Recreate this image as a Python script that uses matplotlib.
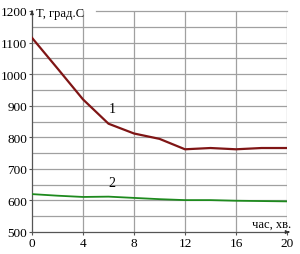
import matplotlib
matplotlib.use("Agg")
import matplotlib.pyplot as plt

hours1 = [0, 2, 4, 6, 8, 10, 12, 14, 16, 18, 20]
temp1 = [1115, 1018, 920, 843, 812, 795, 762, 766, 762, 766, 766]
hours2 = [0, 2, 4, 6, 8, 10, 12, 14, 16, 18, 20]
temp2 = [620, 615, 611, 612, 608, 604, 601, 601, 599, 598, 597]
xticks = [0, 4, 8, 12, 16, 20]
yticks = [500, 600, 700, 800, 900, 1000, 1100, 1200]

plt.rcParams['font.family'] = ['Liberation Serif', 'DejaVu Serif']

fig = plt.figure(figsize=(3.0, 2.55), dpi=100)
ax = fig.add_axes([32/300, 22/255, 255/300, 221/255])
ax.set_xlim(0, 20)
ax.set_ylim(500, 1200)

for x in xticks[1:]:
    ax.axvline(x, color='#a0a0a0', lw=0.9, zorder=1)
for y in range(550, 1200, 50):
    ax.axhline(y, color='#a0a0a0', lw=0.9, zorder=1)
ax.plot([5.0, 20], [1200, 1200], color='#a0a0a0', lw=0.9, zorder=1, clip_on=False)

ax.plot(hours1, temp1, color='#7f1515', lw=1.6, zorder=3)
ax.plot(hours2, temp2, color='#1e8a1e', lw=1.3, zorder=3)

ax.text(6.3, 890, '1', fontsize=10, ha='center', va='center')
ax.text(6.3, 656, '2', fontsize=10, ha='center', va='center')

for s in ['top', 'right']:
    ax.spines[s].set_visible(False)
ax.spines['left'].set_color('#555555')
ax.spines['bottom'].set_color('#555555')
ax.spines['left'].set_linewidth(0.9)
ax.spines['bottom'].set_linewidth(0.9)

ax.set_xticks(xticks)
ax.set_yticks(yticks)
ax.tick_params(axis='both', length=2.5, width=0.8, color='#555555', labelsize=9.5, pad=1)

ax.annotate('', xy=(0, 1210), xytext=(0, 1190), annotation_clip=False,
            arrowprops=dict(arrowstyle='-|>', color='#333333', lw=0.8, mutation_scale=5))
ax.annotate('', xy=(20.4, 500), xytext=(19.9, 500), annotation_clip=False,
            arrowprops=dict(arrowstyle='-|>', color='#333333', lw=0.8, mutation_scale=5))

ax.text(0.3, 1195, 'T, град.С', fontsize=9, ha='left', va='center')
ax.text(20.3, 525, 'час, хв.', fontsize=9, ha='right', va='center')

fig.savefig('out.png', dpi=100)
